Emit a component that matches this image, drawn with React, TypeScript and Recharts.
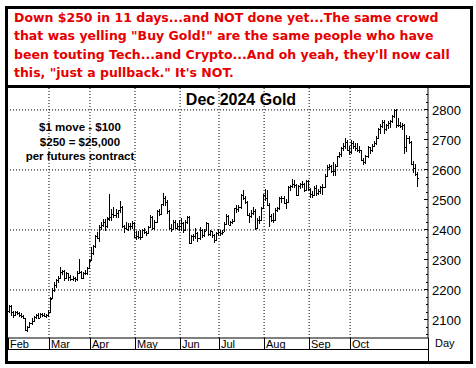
// Dec 2024 Gold daily bar chart with commentary header

import { ComposedChart, Bar, XAxis, YAxis, ReferenceLine } from 'recharts';

const HEADER_LINES = [
    'Down $250 in 11 days...and NOT done yet...The same crowd',
    'that was yelling "Buy Gold!" are the same people who have',
    "been touting Tech...and Crypto...And oh yeah, they'll now call",
    'this, "just a pullback." It\'s NOT.',
];
const CHART_TITLE = 'Dec 2024 Gold';
const NOTE_LINES = ['$1 move - $100', '$250 = $25,000', 'per futures contract'];

// month labels and the index of the first trading day of each month
const MONTHS = ['Feb', 'Mar', 'Apr', 'May', 'Jun', 'Jul', 'Aug', 'Sep', 'Oct'];
const MONTH_START = [0, 20, 40, 62, 84, 103, 125, 147, 167];

const Y_TICKS = [
    2050, 2075, 2100, 2125, 2150, 2175, 2200, 2225, 2250, 2275, 2300, 2325, 2350, 2375, 2400, 2425, 2450,
    2475, 2500, 2525, 2550, 2575, 2600, 2625, 2650, 2675, 2700, 2725, 2750, 2775, 2800, 2825, 2850,
];
const Y_GRID = [2200, 2400, 2600, 2800];
const EMPTY_SLOTS = 5;

// daily OHLC, Feb 1 -> Nov 14
const OPENS = [
    2130, 2145, 2126, 2116, 2125, 2124, 2117, 2112, 2106, 2067, 2078, 2090, 2098, 2111, 2116, 2108, 2119, 2116, 2114, 2116,
    2126, 2172, 2200, 2215, 2232, 2240, 2260, 2263, 2240, 2255, 2242, 2236, 2239, 2235, 2256, 2260, 2240, 2256, 2258, 2274,
    2300, 2322, 2346, 2380, 2373, 2410, 2416, 2427, 2413, 2440, 2442, 2452, 2450, 2456, 2466, 2478, 2412, 2407, 2403, 2412, 2414, 2424,
    2375, 2380, 2378, 2378, 2400, 2393, 2391, 2409, 2444, 2405, 2427, 2462, 2454, 2486, 2507, 2494, 2462, 2406, 2403, 2426, 2407, 2412,
    2414, 2424, 2400, 2428, 2443, 2358, 2379, 2379, 2390, 2372, 2401, 2382, 2398, 2422, 2386, 2396, 2383, 2366, 2389,
    2392, 2391, 2394, 2420, 2448, 2418, 2425, 2430, 2472, 2470, 2478, 2516, 2508, 2493, 2450, 2448, 2458, 2462, 2408, 2432, 2434, 2474,
    2516, 2505, 2484, 2448, 2432, 2434, 2466, 2472, 2506, 2506, 2490, 2494, 2544, 2546, 2554, 2550, 2518, 2546, 2554, 2553, 2534, 2562,
    2536, 2519, 2518, 2541, 2524, 2531, 2542, 2544, 2580, 2610, 2612, 2598, 2596, 2614, 2646, 2652, 2674, 2680, 2694, 2668,
    2659, 2690, 2679, 2673, 2667, 2665, 2632, 2626, 2645, 2676, 2665, 2680, 2691, 2707, 2736, 2747, 2760, 2735, 2749, 2756, 2762, 2781, 2800,
    2749, 2749, 2746, 2749, 2676, 2706, 2694, 2621, 2607, 2586,
];
const HIGHS = [
    2150, 2150, 2130, 2130, 2131, 2128, 2124, 2118, 2108, 2080, 2094, 2106, 2114, 2120, 2122, 2124, 2123, 2122, 2120, 2132,
    2176, 2205, 2228, 2238, 2248, 2275, 2266, 2268, 2260, 2258, 2250, 2246, 2244, 2262, 2302, 2264, 2260, 2266, 2278, 2302,
    2343, 2350, 2382, 2392, 2415, 2425, 2436, 2435, 2442, 2520, 2470, 2478, 2470, 2468, 2495, 2480, 2418, 2426, 2422, 2424, 2430, 2426,
    2398, 2398, 2400, 2404, 2406, 2398, 2412, 2450, 2446, 2432, 2465, 2470, 2488, 2523, 2512, 2500, 2466, 2420, 2432, 2432, 2424, 2432,
    2440, 2428, 2432, 2448, 2446, 2382, 2388, 2406, 2394, 2410, 2404, 2402, 2426, 2424, 2400, 2398, 2388, 2392, 2402,
    2400, 2400, 2426, 2452, 2450, 2430, 2436, 2474, 2482, 2482, 2520, 2533, 2514, 2496, 2458, 2466, 2476, 2470, 2440, 2446, 2476, 2520,
    2535, 2532, 2490, 2452, 2456, 2472, 2478, 2510, 2512, 2512, 2504, 2548, 2550, 2570, 2566, 2552, 2550, 2558, 2562, 2556, 2568, 2566,
    2540, 2530, 2546, 2550, 2536, 2546, 2552, 2586, 2616, 2620, 2616, 2626, 2620, 2648, 2660, 2678, 2690, 2708, 2700, 2680,
    2700, 2696, 2690, 2690, 2680, 2666, 2640, 2650, 2680, 2678, 2686, 2696, 2714, 2740, 2752, 2765, 2768, 2752, 2762, 2766, 2784, 2802, 2802,
    2772, 2760, 2758, 2752, 2718, 2712, 2696, 2630, 2620, 2592,
];
const LOWS = [
    2125, 2115, 2106, 2112, 2118, 2111, 2106, 2104, 2065, 2061, 2074, 2082, 2094, 2105, 2102, 2106, 2110, 2108, 2106, 2110,
    2122, 2168, 2195, 2208, 2226, 2236, 2250, 2232, 2236, 2232, 2230, 2228, 2226, 2228, 2252, 2236, 2236, 2250, 2252, 2270,
    2296, 2316, 2340, 2368, 2360, 2400, 2408, 2395, 2405, 2430, 2430, 2440, 2440, 2440, 2455, 2408, 2392, 2398, 2396, 2400, 2402, 2372,
    2367, 2372, 2368, 2374, 2386, 2380, 2386, 2406, 2400, 2400, 2422, 2448, 2450, 2480, 2480, 2454, 2398, 2394, 2400, 2402, 2400, 2396,
    2396, 2392, 2396, 2420, 2352, 2352, 2366, 2370, 2362, 2366, 2374, 2376, 2396, 2382, 2380, 2376, 2358, 2362, 2380,
    2380, 2382, 2392, 2416, 2416, 2412, 2418, 2426, 2456, 2460, 2470, 2500, 2486, 2446, 2424, 2438, 2450, 2400, 2402, 2420, 2430, 2470,
    2495, 2480, 2410, 2426, 2424, 2430, 2460, 2468, 2490, 2484, 2470, 2490, 2530, 2540, 2540, 2512, 2514, 2538, 2540, 2526, 2530, 2530,
    2508, 2506, 2512, 2512, 2516, 2520, 2516, 2540, 2576, 2600, 2590, 2580, 2580, 2610, 2640, 2646, 2664, 2670, 2664, 2650,
    2652, 2670, 2664, 2660, 2656, 2630, 2618, 2620, 2640, 2656, 2660, 2676, 2684, 2704, 2718, 2740, 2720, 2728, 2736, 2740, 2756, 2772, 2740,
    2742, 2740, 2736, 2652, 2660, 2684, 2616, 2590, 2580, 2541,
];
const CLOSES = [
    2146, 2127, 2116, 2125, 2124, 2117, 2112, 2107, 2067, 2078, 2090, 2097, 2111, 2116, 2108, 2119, 2116, 2114, 2116, 2126,
    2170, 2200, 2215, 2232, 2240, 2260, 2263, 2240, 2255, 2242, 2236, 2239, 2235, 2256, 2260, 2240, 2256, 2258, 2274, 2296,
    2322, 2346, 2380, 2373, 2410, 2416, 2427, 2413, 2437, 2442, 2452, 2450, 2456, 2466, 2478, 2412, 2407, 2403, 2412, 2414, 2424, 2375,
    2380, 2378, 2378, 2400, 2393, 2391, 2409, 2444, 2405, 2427, 2462, 2454, 2486, 2507, 2494, 2462, 2406, 2403, 2426, 2407, 2412, 2414,
    2424, 2400, 2428, 2443, 2358, 2379, 2379, 2390, 2372, 2401, 2382, 2398, 2422, 2386, 2396, 2383, 2366, 2389, 2392,
    2391, 2394, 2420, 2448, 2418, 2425, 2430, 2472, 2470, 2478, 2516, 2508, 2493, 2450, 2448, 2458, 2462, 2408, 2432, 2434, 2474, 2516,
    2505, 2484, 2448, 2432, 2434, 2466, 2472, 2506, 2506, 2490, 2494, 2544, 2546, 2554, 2550, 2518, 2546, 2554, 2553, 2534, 2562, 2536,
    2519, 2518, 2541, 2524, 2531, 2542, 2544, 2580, 2610, 2612, 2598, 2596, 2614, 2646, 2652, 2674, 2680, 2694, 2668, 2659,
    2690, 2679, 2673, 2667, 2665, 2632, 2626, 2645, 2676, 2665, 2680, 2691, 2707, 2736, 2747, 2760, 2735, 2749, 2756, 2762, 2781, 2800, 2749,
    2749, 2746, 2749, 2676, 2706, 2694, 2621, 2607, 2586, 2572,
];

const rows: any[] = CLOSES.map((c, i) => ({
    idx: i,
    o: OPENS[i],
    h: HIGHS[i],
    l: LOWS[i],
    c,
    range: [LOWS[i], HIGHS[i]],
}));
for (let k = 0; k < EMPTY_SLOTS; k++) rows.push({ idx: CLOSES.length + k, range: null });

const AXIS_FONT = '"Liberation Sans", Arial, sans-serif';

function OhlcBar(props: any) {
    const { x, y, width, height, payload } = props;
    if (!payload || payload.h == null) return null;
    const top = Math.min(y, y + height);
    const h = Math.abs(height);
    const span = payload.h - payload.l || 1;
    const py = (v: number) => Math.round(top + ((payload.h - v) / span) * h);
    const px = Math.round(x + width / 2);
    return (
        <g fill="#000" shapeRendering="crispEdges">
            <rect x={px} y={Math.round(top)} width={1} height={Math.max(1, Math.round(h))} />
            <rect x={px - 1} y={py(payload.o)} width={1} height={1} />
            <rect x={px + 1} y={py(payload.c)} width={1} height={1} />
        </g>
    );
}

function PriceTick(props: any) {
    const { x, y, payload } = props;
    const major = payload.value % 100 === 0;
    return (
        <g>
            <line x1={x - (major ? 4 : 2)} x2={x} y1={y} y2={y} stroke="#000" shapeRendering="crispEdges" />
            {major && (
                <text x={x + 4} y={y} dy="0.36em" fontSize={13} fontFamily={AXIS_FONT} fill="#000">
                    {payload.value}
                </text>
            )}
        </g>
    );
}

function MonthTick(props: any) {
    const { x, y, payload } = props;
    const pos = MONTH_START.indexOf(payload.value);
    const left = Math.round(x - 1);
    return (
        <g>
            <line x1={left + 0.5} x2={left + 0.5} y1={y} y2={y + 11} stroke="#000" />
            <text x={left + 2} y={y + 10} fontSize={11} fontFamily={AXIS_FONT} fill="#000">
                {MONTHS[pos]}
            </text>
        </g>
    );
}

export default function App() {
    return (
        <div style={{ position: 'absolute', left: 0, top: 0, width: 476, height: 368, background: '#fff' }}>
            {/* chart */}
            <div style={{ position: 'absolute', left: 0, top: 0 }}>
                <ComposedChart
                    width={476}
                    height={368}
                    data={rows}
                    margin={{ top: 88, left: 8, right: 8, bottom: 19 }}
                    barCategoryGap={0}
                >
                    <XAxis
                        dataKey="idx"
                        type="category"
                        ticks={MONTH_START}
                        interval={0}
                        height={11}
                        tickSize={0}
                        tickMargin={0}
                        tick={<MonthTick />}
                        axisLine={{ stroke: '#000' }}
                        tickLine={false}
                    />
                    <YAxis
                        orientation="right"
                        type="number"
                        domain={[2040, 2873]}
                        allowDataOverflow
                        ticks={Y_TICKS}
                        interval={0}
                        width={40}
                        tickSize={0}
                        tickMargin={0}
                        tick={<PriceTick />}
                        axisLine={{ stroke: '#000' }}
                        tickLine={false}
                    />
                    {Y_GRID.map((v) => (
                        <ReferenceLine key={v} y={v} stroke="#000" strokeDasharray="1 2" />
                    ))}
                    {MONTH_START.slice(1).map((i) => (
                        <ReferenceLine key={i} x={i} position="start" stroke="#000" strokeDasharray="1 2" />
                    ))}
                    <Bar dataKey="range" shape={<OhlcBar />} isAnimationActive={false} />
                </ComposedChart>
            </div>

            {/* frame */}
            <div style={{ position: 'absolute', left: 5, top: 6, width: 468, height: 358, border: '3px solid #000', boxSizing: 'border-box' }} />
            <div style={{ position: 'absolute', left: 5, top: 85, width: 468, height: 3, background: '#000' }} />
            <div style={{ position: 'absolute', left: 8, top: 349, width: 421, height: 1, background: '#000' }} />
            <div style={{ position: 'absolute', left: 428, top: 338, width: 1, height: 23, background: '#000' }} />
            <div style={{ position: 'absolute', left: 435, top: 336, fontFamily: AXIS_FONT, fontSize: 11, lineHeight: '14px' }}>Day</div>

            {/* header */}
            <div
                style={{
                    position: 'absolute',
                    left: 14,
                    top: 9,
                    color: '#e60000',
                    fontFamily: '"DejaVu Sans", Verdana, sans-serif',
                    fontWeight: 'bold',
                    fontSize: 12.5,
                    lineHeight: '18.33px',
                    whiteSpace: 'nowrap',
                }}
            >
                {HEADER_LINES.map((t) => (
                    <div key={t}>{t}</div>
                ))}
            </div>

            {/* title and note */}
            <div
                style={{
                    position: 'absolute',
                    left: 241,
                    top: 91,
                    transform: 'translateX(-50%)',
                    fontFamily: AXIS_FONT,
                    fontWeight: 'bold',
                    fontSize: 16,
                    lineHeight: '18px',
                    whiteSpace: 'nowrap',
                }}
            >
                {CHART_TITLE}
            </div>
            <div
                style={{
                    position: 'absolute',
                    left: 80,
                    top: 120,
                    transform: 'translateX(-50%)',
                    fontFamily: AXIS_FONT,
                    fontWeight: 'bold',
                    fontSize: 11.5,
                    lineHeight: '14.5px',
                    textAlign: 'center',
                    whiteSpace: 'nowrap',
                }}
            >
                {NOTE_LINES.map((t) => (
                    <div key={t}>{t}</div>
                ))}
            </div>
        </div>
    );
}
